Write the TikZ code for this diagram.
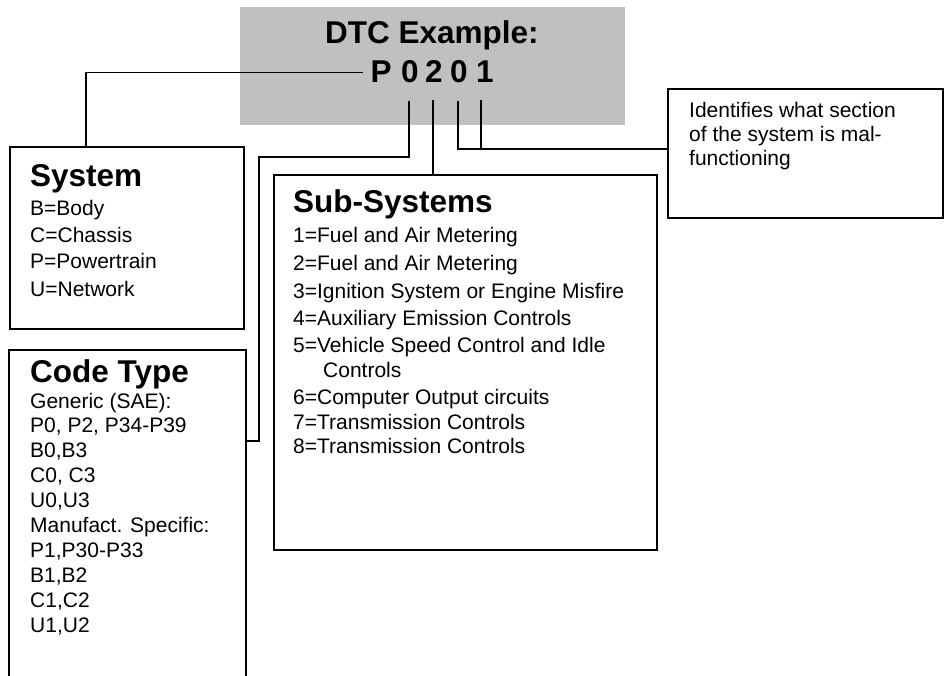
\documentclass[tikz,border=0pt]{standalone}
\usepackage{fontspec}
\setmainfont{Liberation Sans}
\definecolor{greybg}{RGB}{192,192,192}
\tikzset{
  box/.style={draw, line width=1.6pt, inner sep=0pt, anchor=north west},
  conn/.style={draw, line width=1.3pt},
  body/.style={font=\fontsize{21}{24}\selectfont, anchor=base west, inner sep=0pt},
  ttl/.style={font=\fontsize{31.5}{36}\selectfont\bfseries, anchor=base west, inner sep=0pt},
  digit/.style={font=\fontsize{31.5}{36}\selectfont\bfseries, anchor=base, inner xsep=0pt, inner ysep=17pt},
}
\begin{document}
\begin{tikzpicture}[x=1pt,y=-1pt]
\path[use as bounding box] (0,0) rectangle (944,676);
% header
\node (hdr) [fill=greybg, inner sep=0pt, anchor=north west, minimum width=385pt, minimum height=118pt] at (240,7) {};
\node (dtc) [ttl, anchor=base] at (432,44) {DTC Example:};
\node (dP) [digit] at (381,83) {P};
\node (d1) [digit] at (410,83) {0};
\node (d2) [digit] at (434,83) {2};
\node (d3) [digit] at (459,83) {0};
\node (d4) [digit] at (485,83) {1};
% boxes
\node (sys) [box, minimum width=234pt, minimum height=182pt] at (9,146) {};
\node (code) [box, minimum width=237pt, minimum height=345pt] at (8,349) {};
\node (sub) [box, minimum width=383pt, minimum height=375pt] at (273,174) {};
\node (ident) [box, minimum width=275pt, minimum height=129pt] at (667,88) {};
% connectors
\draw[conn] ([xshift=-7pt]dP.west) -| ([xshift=77pt]sys.north west);
\draw[conn] ([xshift=-1pt]d1.south) |- (259,157) -- (259,441) -- (code.east |- 259,441);
\draw[conn] ([xshift=-1pt]d2.south) -- ([xshift=-1pt]d2.south |- sub.north);
\draw[conn] ([xshift=-1pt]d3.south) |- (ident.west |- 0,149);
\draw[conn] ([xshift=-4pt]d4.south) -- ([xshift=-4pt]d4.south |- 0,149);
% System
\node (st) [ttl] at (30,187) {System};
\node (s1) [body] at (30,216) {B=Body};
\node (s2) [body] at (30,243) {C=Chassis};
\node (s3) [body] at (30,269) {P=Powertrain};
\node (s4) [body] at (30,296) {U=Network};
% Code type
\node (ct) [ttl] at (30,382) {Code Type};
\node (c1) [body] at (30,408) {Generic (SAE):};
\node (c2) [body] at (30,432) {P0, P2, P34-P39};
\node (c3) [body] at (30,457) {B0,B3};
\node (c4) [body] at (30,482) {C0, C3};
\node (c5) [body] at (30,507) {U0,U3};
\node (c6) [body] at (30,532) {Manufact. Specific:};
\node (c7) [body] at (30,557) {P1,P30-P33};
\node (c8) [body] at (30,582) {B1,B2};
\node (c9) [body] at (30,607) {C1,C2};
\node (c10) [body] at (30,632) {U1,U2};
% Sub-systems
\node (sst) [ttl] at (293,213) {Sub-Systems};
\node (u1) [body] at (293,243) {1=Fuel and Air Metering};
\node (u2) [body] at (293,270) {2=Fuel and Air Metering};
\node (u3) [body] at (293,298) {3=Ignition System or Engine Misfire};
\node (u4) [body] at (293,325) {4=Auxiliary Emission Controls};
\node (u5) [body] at (293,352) {5=Vehicle Speed Control and Idle};
\node (u5b) [body] at (323,377) {Controls};
\node (u6) [body] at (293,404) {6=Computer Output circuits};
\node (u7) [body] at (293,429) {7=Transmission Controls};
\node (u8) [body] at (293,453) {8=Transmission Controls};
% Identify
\node (i1) [body] at (689,118) {Identifies what section};
\node (i2) [body] at (689,142) {of the system is mal-};
\node (i3) [body] at (689,166) {functioning};
\end{tikzpicture}
\end{document}
